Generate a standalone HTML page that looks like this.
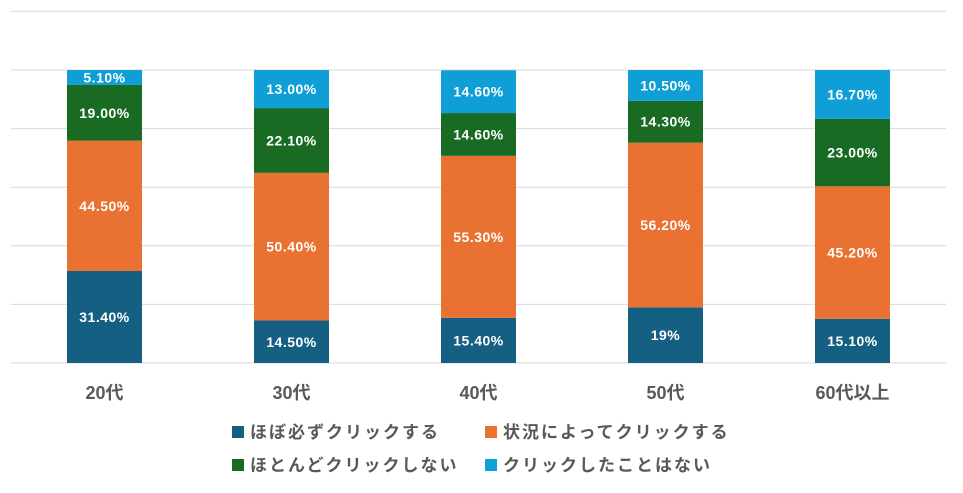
<!DOCTYPE html>
<html><head><meta charset="utf-8"><style>
body{margin:0;background:#fff;}
svg{display:block;font-family:"Liberation Sans","Noto Sans CJK JP",sans-serif;}
</style></head><body>
<svg id="c" width="963" height="493"></svg>
<script>
const categories=["20代","30代","40代","50代","60代以上"];
const seriesNames=["ほぼ必ずクリックする","状況によってクリックする","ほとんどクリックしない","クリックしたことはない"];
const s1=[31.4,14.5,15.4,19,15.1];
const s2=[44.5,50.4,55.3,56.2,45.2];
const s3=[19.0,22.1,14.6,14.3,23.0];
const s4=[5.1,13.0,14.6,10.5,16.7];
const labels1=["31.40%","14.50%","15.40%","19%","15.10%"];
const labels2=["44.50%","50.40%","55.30%","56.20%","45.20%"];
const labels3=["19.00%","22.10%","14.60%","14.30%","23.00%"];
const labels4=["5.10%","13.00%","14.60%","10.50%","16.70%"];
const gridTicks=[0,20,40,60,80,100,120];
const colors=["#156082","#E97132","#196B24","#0F9ED5"];
const NS="http://www.w3.org/2000/svg";
const svg=document.getElementById('c');
const x0=11,x1=946,y0=363,pxPer=(363-70)/100;
const y=v=>y0-v*pxPer;
const band=(x1-x0)/categories.length;
const xc=i=>x0+band*(i+0.5);
const bw=75;
function mk(t,a){const e=document.createElementNS(NS,t);for(const k in a)e.setAttribute(k,a[k]);svg.appendChild(e);return e;}
gridTicks.forEach(t=>{const l=mk('line',{x1:x0,x2:x1,y1:y(t),y2:y(t),stroke:'#d9d9d9','stroke-width':1});

});
const series=[s1,s2,s3,s4],labs=[labels1,labels2,labels3,labels4];
categories.forEach((c,i)=>{let acc=0;
series.forEach((s,j)=>{const v=s[i];
const r=mk('rect',{x:xc(i)-bw/2,y:y(acc+v),width:bw,height:v*pxPer,fill:colors[j]});


const t=mk('text',{x:xc(i),y:y(acc+v/2)+5,'text-anchor':'middle',fill:'#fff','font-size':14,'font-weight':'bold','letter-spacing':'0.5'});
t.textContent=labs[j][i];


acc+=v;});
const ct=mk('text',{x:xc(i),y:399,'text-anchor':'middle',fill:'#595959','font-size':18,'font-weight':'bold'});
ct.textContent=c;


});
const legPos=[[232,432],[485,432],[232,465],[485,465]];
seriesNames.forEach((n,j)=>{const [lx,ly]=legPos[j];
const r=mk('rect',{x:lx,y:ly-6,width:12,height:12,fill:colors[j]});


const t=mk('text',{x:lx+18,y:ly+6,fill:'#595959','font-size':17,'font-weight':'bold','letter-spacing':'2'});
t.textContent=n;

});
</script>
</body></html>
